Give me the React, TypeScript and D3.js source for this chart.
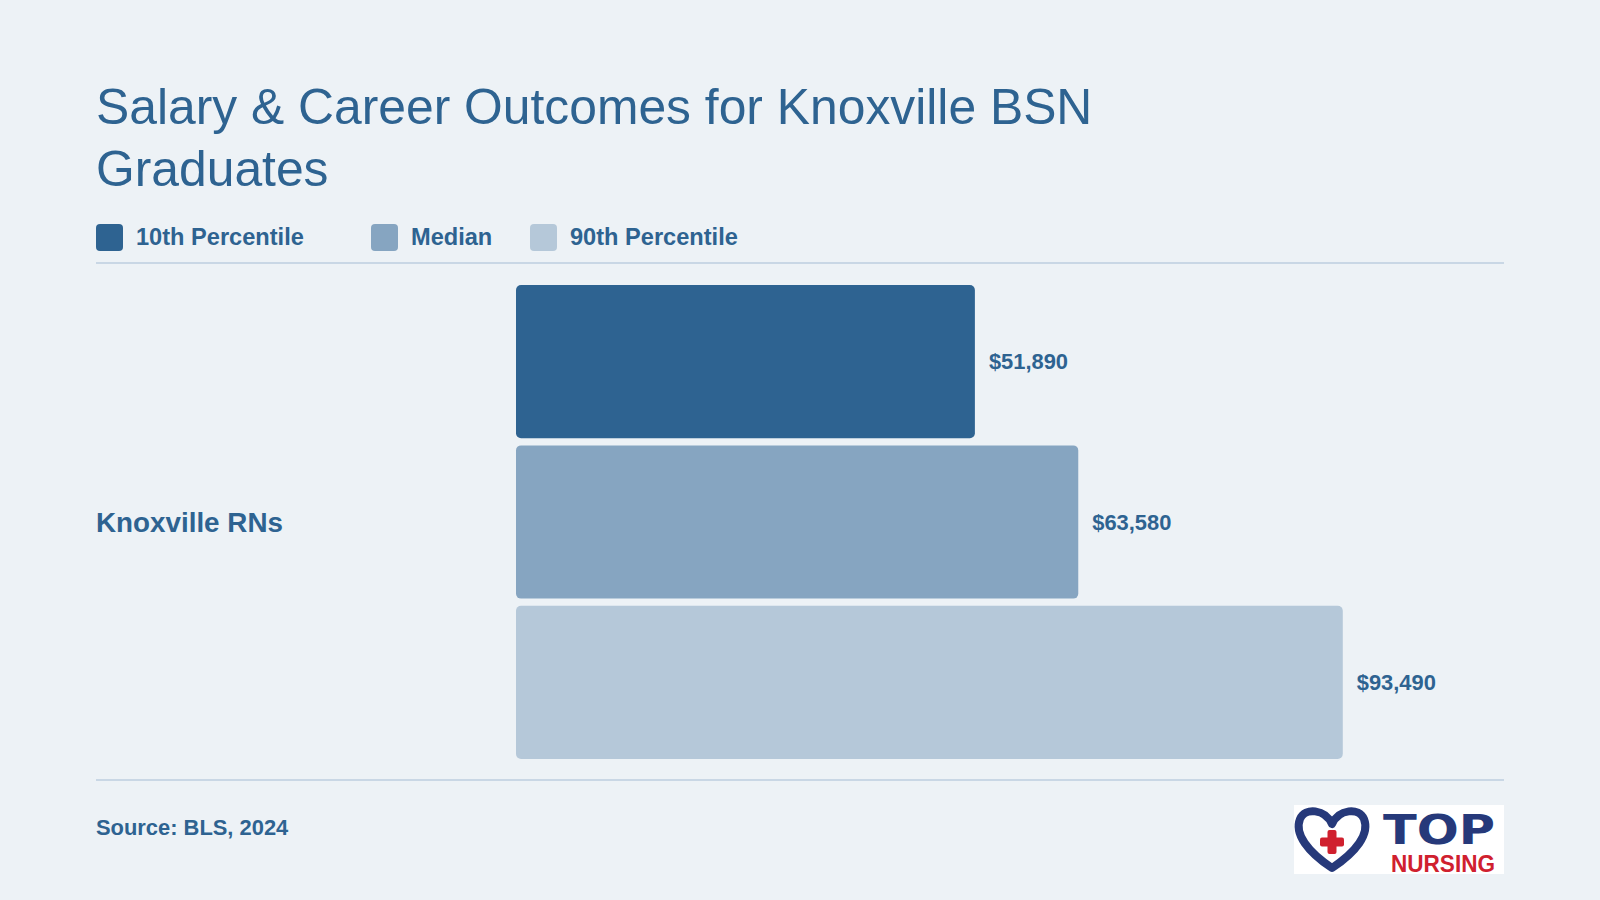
import * as d3 from 'd3'

const W = 1600
const H = 900

// data
const category = 'Knoxville RNs'
const seriesNames = ['10th Percentile', 'Median', '90th Percentile']
const seriesValues = [51890, 63580, 93490]
const seriesColors = ['#2e6391', '#86a5c1', '#b5c8d9']
const titleLines = ['Salary & Career Outcomes for Knoxville BSN', 'Graduates']
const sourceText = 'Source: BLS, 2024'

const TEXT = '#2e6391'
const RULE = '#c9d7e5'
const FONT = '"Liberation Sans", Arial, Helvetica, sans-serif'

// legend item offsets (left edge of each swatch)
const legendX = [96, 371, 530]

function Logo({ x, y }: { x: number; y: number }) {
  return (
    <g transform={`translate(${x},${y})`}>
      <rect width={210} height={69} fill="#ffffff" />
      {/* heart outline */}
      <path
        d="M38,19 C31,4 11,2 6,14 C0,29 14,47 38,63 C62,47 76,29 70,14 C65,2 45,4 38,19 Z"
        fill="none"
        stroke="#26397a"
        strokeWidth={8}
        strokeLinejoin="round"
      />
      {/* red cross */}
      <g transform="translate(38,37)">
        <rect x={-12} y={-4.5} width={24} height={9} rx={2} fill="#d0202e" />
        <rect x={-4.5} y={-12} width={9} height={24} rx={2} fill="#d0202e" />
      </g>
      <text
        x={145}
        y={39}
        textAnchor="middle"
        fill="#26397a"
        fontFamily='"DejaVu Sans", sans-serif'
        fontWeight={700}
        fontSize={40}
        textLength={112}
        lengthAdjust="spacingAndGlyphs"
      >
        TOP
      </text>
      <text
        x={149}
        y={67}
        textAnchor="middle"
        fill="#d0202e"
        fontFamily={FONT}
        fontWeight={700}
        fontSize={23}
        textLength={104}
        lengthAdjust="spacingAndGlyphs"
      >
        NURSING
      </text>
    </g>
  )
}

export default function App() {
  const left = 96
  const right = 1504
  const ruleTop = 263
  const ruleBottom = 780

  const x = d3
    .scaleLinear()
    .domain([0, (d3.max(seriesValues) || 0) * 1.195])
    .range([516, right])

  const y = d3
    .scaleBand<string>()
    .domain(seriesNames)
    .range([285, 759])
    .paddingInner(0.045)
    .paddingOuter(0)

  const fmt = d3.format('$,')

  return (
    <svg
      width={W}
      height={H}
      style={{ position: 'absolute', left: 0, top: 0, display: 'block' }}
      fontFamily={FONT}
    >
      <rect width={W} height={H} fill="#edf2f6" />

      {/* title */}
      {titleLines.map((t, i) => (
        <text key={t} x={left} y={124 + i * 62} fill={TEXT} fontSize={49.8}>
          {t}
        </text>
      ))}

      {/* legend */}
      {seriesNames.map((name, i) => (
        <g key={name} transform={`translate(${legendX[i]},224)`}>
          <rect width={27} height={27} rx={4} fill={seriesColors[i]} />
          <text x={40} y={21} fill={TEXT} fontSize={23.6} fontWeight={700}>
            {name}
          </text>
        </g>
      ))}

      <line x1={left} x2={right} y1={ruleTop} y2={ruleTop} stroke={RULE} strokeWidth={2} />

      {/* category label */}
      <text
        x={left}
        y={(y.range()[0] + y.range()[1]) / 2}
        dy="0.35em"
        fill={TEXT}
        fontSize={27.8}
        fontWeight={700}
      >
        {category}
      </text>

      {/* bars */}
      {seriesNames.map((name, i) => (
        <g key={name}>
          <rect
            x={x(0)}
            y={y(name)}
            width={x(seriesValues[i]) - x(0)}
            height={y.bandwidth()}
            rx={5}
            fill={seriesColors[i]}
          />
          <text
            x={x(seriesValues[i]) + 14}
            y={(y(name) || 0) + y.bandwidth() / 2}
            dy="0.35em"
            fill={TEXT}
            fontSize={21.9}
            fontWeight={700}
          >
            {fmt(seriesValues[i])}
          </text>
        </g>
      ))}

      <line
        x1={left}
        x2={right}
        y1={ruleBottom}
        y2={ruleBottom}
        stroke={RULE}
        strokeWidth={2}
      />

      <text x={left} y={835} fill={TEXT} fontSize={21.9} fontWeight={700}>
        {sourceText}
      </text>

      <Logo x={1294} y={805} />
    </svg>
  )
}
